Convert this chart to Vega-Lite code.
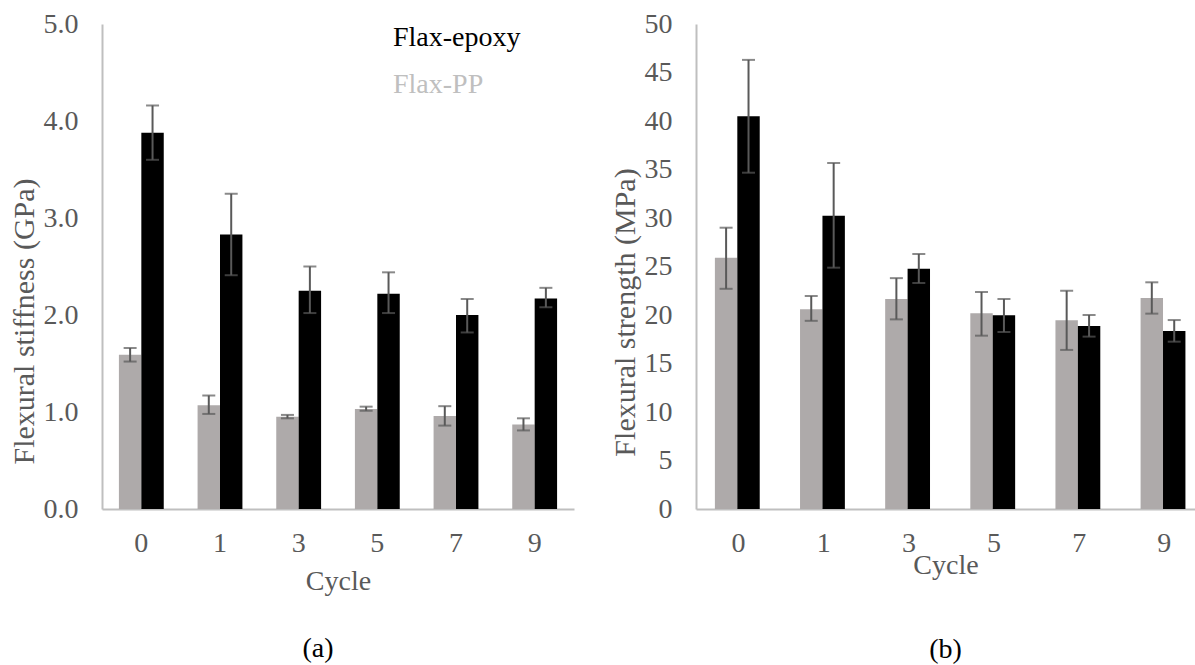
{
  "$schema": "https://vega.github.io/schema/vega-lite/v6.json",
  "padding": {"top": 10, "left": 9, "right": 0, "bottom": 0},
  "background": "white",
  "spacing": 36,
  "config": {
    "view": {"stroke": null},
    "font": "Liberation Serif",
    "axis": {
      "labelFont": "Liberation Serif",
      "titleFont": "Liberation Serif",
      "labelFontSize": 28,
      "titleFontSize": 28,
      "labelColor": "#595959",
      "titleColor": "#595959",
      "titleFontWeight": "normal",
      "domainColor": "#BFBFBF",
      "domainWidth": 2,
      "ticks": false,
      "grid": false
    },
    "legend": {"labelFont": "Liberation Serif", "labelFontSize": 28}
  },
  "datasets": {
    "stiffness": [
      {"cycle": "0", "series": "Flax-PP", "value": 1.59, "lo": 1.52, "hi": 1.66},
      {"cycle": "1", "series": "Flax-PP", "value": 1.07, "lo": 0.98, "hi": 1.17},
      {"cycle": "3", "series": "Flax-PP", "value": 0.95, "lo": 0.935, "hi": 0.97},
      {"cycle": "5", "series": "Flax-PP", "value": 1.03, "lo": 1.013, "hi": 1.055},
      {"cycle": "7", "series": "Flax-PP", "value": 0.96, "lo": 0.86, "hi": 1.06},
      {"cycle": "9", "series": "Flax-PP", "value": 0.87, "lo": 0.81, "hi": 0.935},
      {"cycle": "0", "series": "Flax-epoxy", "value": 3.88, "lo": 3.6, "hi": 4.16},
      {"cycle": "1", "series": "Flax-epoxy", "value": 2.83, "lo": 2.41, "hi": 3.25},
      {"cycle": "3", "series": "Flax-epoxy", "value": 2.25, "lo": 2.02, "hi": 2.5},
      {"cycle": "5", "series": "Flax-epoxy", "value": 2.22, "lo": 2.02, "hi": 2.44},
      {"cycle": "7", "series": "Flax-epoxy", "value": 2.0, "lo": 1.82, "hi": 2.165},
      {"cycle": "9", "series": "Flax-epoxy", "value": 2.17, "lo": 2.08, "hi": 2.28}
    ],
    "strength": [
      {"cycle": "0", "series": "Flax-PP", "value": 25.9, "lo": 22.7, "hi": 29.0},
      {"cycle": "1", "series": "Flax-PP", "value": 20.6, "lo": 19.4, "hi": 21.96},
      {"cycle": "3", "series": "Flax-PP", "value": 21.65, "lo": 19.55, "hi": 23.8},
      {"cycle": "5", "series": "Flax-PP", "value": 20.17, "lo": 17.87, "hi": 22.37},
      {"cycle": "7", "series": "Flax-PP", "value": 19.45, "lo": 16.4, "hi": 22.5},
      {"cycle": "9", "series": "Flax-PP", "value": 21.75, "lo": 20.14, "hi": 23.37},
      {"cycle": "0", "series": "Flax-epoxy", "value": 40.48, "lo": 34.67, "hi": 46.3},
      {"cycle": "1", "series": "Flax-epoxy", "value": 30.24, "lo": 24.88, "hi": 35.67},
      {"cycle": "3", "series": "Flax-epoxy", "value": 24.77, "lo": 23.3, "hi": 26.29},
      {"cycle": "5", "series": "Flax-epoxy", "value": 19.97, "lo": 18.25, "hi": 21.65},
      {"cycle": "7", "series": "Flax-epoxy", "value": 18.87, "lo": 17.77, "hi": 20.0},
      {"cycle": "9", "series": "Flax-epoxy", "value": 18.35, "lo": 17.25, "hi": 19.48}
    ]
  },
  "hconcat": [
    {
      "width": 472,
      "height": 485,
      "data": {"name": "stiffness"},
      "title": {"text": "(a)", "orient": "bottom", "fontSize": 28, "font": "Liberation Serif", "fontWeight": "normal", "color": "#000000", "offset": 40, "dx": -20},
      "encoding": {
        "x": {"field": "cycle", "type": "nominal", "sort": ["0", "1", "3", "5", "7", "9"],
              "scale": {"paddingInner": 0.43, "paddingOuter": 0.215},
              "axis": {"title": "Cycle", "labelAngle": 0, "labelPadding": 20, "titlePadding": 10}},
        "xOffset": {"field": "series", "type": "nominal", "sort": ["Flax-PP", "Flax-epoxy"]}
      },
      "layer": [
        {
          "mark": {"type": "bar"},
          "encoding": {
            "y": {"field": "value", "type": "quantitative",
                  "scale": {"domain": [0, 5], "nice": false},
                  "axis": {"title": "Flexural stiffness (GPa)", "format": ".1f", "values": [0, 1, 2, 3, 4, 5], "labelPadding": 24, "titlePadding": 4, "titleFontSize": 30, "titleY": 297}},
            "color": {"field": "series", "type": "nominal",
                      "scale": {"domain": ["Flax-epoxy", "Flax-PP"], "range": ["#000000", "#AEAAAA"]},
                      "legend": {"title": null, "orient": "none", "legendX": 263, "legendY": 0,
                                 "symbolOpacity": 0, "symbolSize": 0, "symbolStrokeWidth": 0,
                                 "labelOffset": 0, "rowPadding": 19,
                                 "labelColor": {"expr": "datum.value === 'Flax-epoxy' ? '#000000' : '#BFBFBF'"}}}
          }
        },
        {
          "mark": {"type": "rule", "color": "#595959", "strokeWidth": 2},
          "encoding": {"y": {"field": "lo", "type": "quantitative"}, "y2": {"field": "hi"}}
        },
        {
          "mark": {"type": "tick", "color": "#595959", "thickness": 2, "size": 13, "orient": "horizontal"},
          "encoding": {"y": {"field": "lo", "type": "quantitative"}}
        },
        {
          "mark": {"type": "tick", "color": "#595959", "thickness": 2, "size": 13, "orient": "horizontal"},
          "encoding": {"y": {"field": "hi", "type": "quantitative"}}
        }
      ]
    },
    {
      "width": 499,
      "height": 485,
      "data": {"name": "strength"},
      "title": {"text": "(b)", "orient": "bottom", "fontSize": 28, "font": "Liberation Serif", "fontWeight": "normal", "color": "#000000", "offset": 57, "dx": 0},
      "encoding": {
        "x": {"field": "cycle", "type": "nominal", "sort": ["0", "1", "3", "5", "7", "9"],
              "scale": {"paddingInner": 0.443, "paddingOuter": 0.152, "align": 0.73},
              "axis": {"title": "Cycle", "labelAngle": 0, "labelPadding": 20, "titlePadding": -6}},
        "xOffset": {"field": "series", "type": "nominal", "sort": ["Flax-PP", "Flax-epoxy"]}
      },
      "layer": [
        {
          "mark": {"type": "bar"},
          "encoding": {
            "y": {"field": "value", "type": "quantitative",
                  "scale": {"domain": [0, 50], "nice": false},
                  "axis": {"title": "Flexural strength (MPa)", "format": "d", "values": [0, 5, 10, 15, 20, 25, 30, 35, 40, 45, 50], "labelPadding": 24, "titlePadding": 4, "titleFontSize": 30, "titleY": 288}},
            "color": {"field": "series", "type": "nominal",
                      "scale": {"domain": ["Flax-epoxy", "Flax-PP"], "range": ["#000000", "#AEAAAA"]},
                      "legend": null}
          }
        },
        {
          "mark": {"type": "rule", "color": "#595959", "strokeWidth": 2},
          "encoding": {"y": {"field": "lo", "type": "quantitative"}, "y2": {"field": "hi"}}
        },
        {
          "mark": {"type": "tick", "color": "#595959", "thickness": 2, "size": 13, "orient": "horizontal"},
          "encoding": {"y": {"field": "lo", "type": "quantitative"}}
        },
        {
          "mark": {"type": "tick", "color": "#595959", "thickness": 2, "size": 13, "orient": "horizontal"},
          "encoding": {"y": {"field": "hi", "type": "quantitative"}}
        }
      ]
    }
  ]
}
